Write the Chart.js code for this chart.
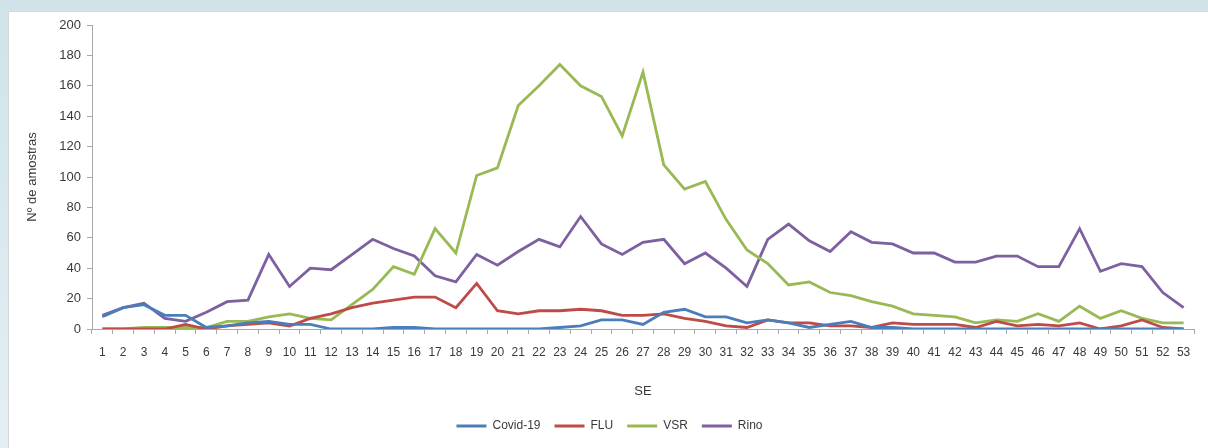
<!DOCTYPE html>
<html>
<head>
<meta charset="utf-8">
<script src="https://cdn.jsdelivr.net/npm/chart.js@4"></script>
<style>
  html, body { margin: 0; padding: 0; }
  body {
    width: 1208px; height: 448px; overflow: hidden; position: relative;
    background: linear-gradient(180deg, #cfe3e9 0%, #d6e8ee 40%, #e4eff3 100%);
  }
  #panel {
    position: absolute; left: 8px; top: 11px; right: 0; bottom: 0;
    background: #ffffff;
    border-top: 1px solid #d6d9da; border-left: 1px solid #d6d9da;
  }
  #wrap { position: absolute; left: 0; top: 0; width: 1208px; height: 448px; }
</style>
</head>
<body>
<div id="panel"></div>
<div id="wrap"><canvas id="chart" width="1208" height="448"></canvas></div>
<script>
// Semanas epidemiológicas 1–53
const semanas = Array.from({length: 53}, (_, i) => String(i + 1));

const covid19 = [8,14,16,9,9,1,2,4,5,3,3,0,0,0,1,1,0,0,0,0,0,0,1,2,6,6,3,11,13,8,8,4,6,4,1,3,5,1,1,0,0,0,0,0,0,0,0,0,0,0,0,0,0];
const flu     = [0,0,0,0,3,0,2,3,4,2,7,10,14,17,19,21,21,14,30,12,10,12,12,13,12,9,9,10,7,5,2,1,6,4,4,2,2,1,4,3,3,3,1,5,2,3,2,4,0,2,6,1,0];
const vsr     = [0,0,1,1,1,1,5,5,8,10,7,6,16,26,41,36,66,50,101,106,147,160,174,160,153,127,169,108,92,97,72,52,43,29,31,24,22,18,15,10,9,8,4,6,5,10,5,15,7,12,7,4,4];
const rino    = [9,14,17,7,5,11,18,19,49,28,40,39,49,59,53,48,35,31,49,42,51,59,54,74,56,49,57,59,43,50,40,28,59,69,58,51,64,57,56,50,50,44,44,48,48,41,41,66,38,43,41,24,14];

const yTicks = [0,20,40,60,80,100,120,140,160,180,200];

const FONT = "'Liberation Sans', Arial, sans-serif";
const TXT = '#3a3a3a';

function serie(label, data, color) {
  return {
    label, data,
    borderColor: color, backgroundColor: color,
    borderWidth: 2.8, pointRadius: 0, tension: 0, fill: false
  };
}

new Chart(document.getElementById('chart'), {
  type: 'line',
  data: {
    labels: semanas,
    datasets: [
      serie('Covid-19', covid19, '#4a7ebb'),
      serie('FLU', flu, '#be4b48'),
      serie('VSR', vsr, '#98b954'),
      serie('Rino', rino, '#7d60a0')
    ]
  },
  options: {
    responsive: false,
    animation: false,
    layout: { padding: { left: 25, right: 14, top: 25, bottom: 6 } },
    plugins: {
      tooltip: { enabled: false },
      legend: {
        position: 'bottom',
        labels: {
          font: { family: FONT, size: 12 },
          color: TXT,
          boxWidth: 30, boxHeight: 3, padding: 14,
          generateLabels: (chart) =>
            Chart.defaults.plugins.legend.labels.generateLabels(chart)
              .map(l => Object.assign(l, { lineWidth: 0 }))
        }
      }
    },
    scales: {
      x: {
        offset: true,
        grid: {
          offset: true, drawOnChartArea: false, drawTicks: true,
          tickLength: 5, color: '#a8a8a8'
        },
        border: { display: true, color: '#a8a8a8', width: 1 },
        ticks: {
          autoSkip: false, maxRotation: 0, padding: 11,
          font: { family: FONT, size: 12 }, color: TXT
        },
        title: {
          display: true, text: 'SE',
          font: { family: FONT, size: 13 }, color: TXT,
          padding: { top: 13, bottom: 7 }
        }
      },
      y: {
        min: 0, max: 200,
        afterBuildTicks: (s) => { s.ticks = yTicks.map(v => ({ value: v })); },
        afterFit: (s) => { s.width = 67; },
        grid: {
          drawOnChartArea: false, drawTicks: true, tickLength: 5, color: '#a8a8a8'
        },
        border: { display: true, color: '#a8a8a8', width: 1 },
        ticks: {
          padding: 6,
          font: { family: FONT, size: 13 }, color: TXT
        },
        title: {
          display: true, text: 'Nº de amostras',
          font: { family: FONT, size: 13 }, color: TXT,
          padding: { top: 0, bottom: 10 }
        }
      }
    }
  }
});
</script>
</body>
</html>
